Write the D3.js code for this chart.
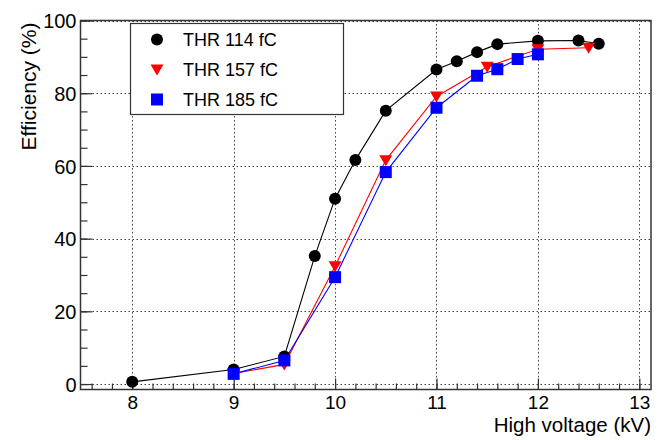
<!DOCTYPE html>
<html>
<head>
<meta charset="utf-8">
<script src="https://cdn.jsdelivr.net/npm/d3@7"></script>
<style>
  html, body { margin: 0; padding: 0; background: #fff; }
  svg text { font-family: "Liberation Sans", Arial, Helvetica, sans-serif; fill: #000; }
</style>
</head>
<body>
<svg id="chart" width="663" height="440"></svg>
<script>
// High voltage scan (kV) for each discriminator threshold
const hv114 = [8.0, 9.0, 9.5, 9.8, 10.0, 10.2, 10.5, 11.0, 11.2, 11.4, 11.6, 12.0, 12.4, 12.6];
const eff114 = [0.6, 4.0, 7.6, 35.2, 51.0, 61.6, 75.2, 86.5, 88.8, 91.3, 93.5, 94.4, 94.5, 93.6];

const hv157 = [9.0, 9.5, 10.0, 10.5, 11.0, 11.5, 12.0, 12.5];
const eff157 = [2.9, 5.4, 32.4, 61.6, 79.1, 87.3, 92.1, 92.5];

const hv185 = [9.0, 9.5, 10.0, 10.5, 11.0, 11.4, 11.6, 11.8, 12.0];
const eff185 = [2.8, 6.5, 29.4, 58.3, 76.0, 84.8, 86.6, 89.4, 90.7];

const seriesNames = ["THR 114 fC", "THR 157 fC", "THR 185 fC"];
const seriesColors = ["#000000", "#ff0000", "#0000ff"];
const seriesShapes = ["circle", "triangleDown", "square"];

const xTicks = [8, 9, 10, 11, 12, 13];
const yTicks = [0, 20, 40, 60, 80, 100];
const xTitle = "High voltage (kV)";
const yTitle = "Efficiency (%)";

const svg = d3.select("#chart");
const L = 80.5, R = 651, T = 20.5, B = 389.5;

const x = d3.scaleLinear().domain([7.49, 13.115]).range([L, R]);
const y = d3.scaleLinear().domain([-1.5, 100]).range([B, T]);

// dotted grid at major ticks
const grid = svg.append("g").attr("stroke", "#444").attr("stroke-width", 1)
  .attr("stroke-dasharray", "1.5,2.5");
grid.selectAll(".gx").data(xTicks).join("line")
  .attr("x1", d => Math.round(x(d)) + 0.5).attr("x2", d => Math.round(x(d)) + 0.5)
  .attr("y1", B).attr("y2", T);
grid.selectAll(".gy").data(yTicks).join("line")
  .attr("y1", d => Math.round(y(d)) + 0.5).attr("y2", d => Math.round(y(d)) + 0.5)
  .attr("x1", L).attr("x2", R);

// frame
svg.append("rect").attr("x", L).attr("y", T).attr("width", R - L).attr("height", B - T)
  .attr("fill", "none").attr("stroke", "#333").attr("stroke-width", 1.5);

// x axis: ticks point inward (upward)
const xMinor = d3.range(7.6, 13.01, 0.2).map(v => +v.toFixed(1));
const xAxis = d3.axisBottom(x).tickValues(xMinor).tickSize(-6).tickFormat("");
svg.append("g").attr("transform", `translate(0,${B})`).call(xAxis)
  .call(g => g.select(".domain").remove())
  .call(g => g.selectAll(".tick line").attr("stroke", "#333").attr("stroke-width", 1.2));
const xMajor = d3.axisBottom(x).tickValues(xTicks).tickSize(-11)
  .tickFormat(d3.format("d"));
svg.append("g").attr("transform", `translate(0,${B})`).call(xMajor)
  .call(g => g.select(".domain").remove())
  .call(g => g.selectAll(".tick line").attr("stroke", "#333").attr("stroke-width", 1.2))
  .call(g => g.selectAll(".tick text").attr("font-size", 19).attr("dy", "0")
    .attr("y", 19.5));

// y axis: ticks point inward (rightward)
const yMinor = d3.range(0, 101, 5);
const yAxis = d3.axisLeft(y).tickValues(yMinor).tickSize(-7).tickFormat("");
svg.append("g").attr("transform", `translate(${L},0)`).call(yAxis)
  .call(g => g.select(".domain").remove())
  .call(g => g.selectAll(".tick line").attr("stroke", "#333").attr("stroke-width", 1.2));
const yMajor = d3.axisLeft(y).tickValues(yTicks).tickSize(-12)
  .tickFormat(d3.format("d"));
svg.append("g").attr("transform", `translate(${L},0)`).call(yMajor)
  .call(g => g.select(".domain").remove())
  .call(g => g.selectAll(".tick line").attr("stroke", "#333").attr("stroke-width", 1.2))
  .call(g => g.selectAll(".tick text").attr("font-size", 20).attr("x", -4).attr("dy", "0.36em"));

// axis titles
svg.append("text").attr("x", R).attr("y", 432).attr("text-anchor", "end")
  .attr("font-size", 20.5).text(xTitle);
svg.append("text").attr("transform", `translate(36,${T + 2}) rotate(-90)`)
  .attr("text-anchor", "end").attr("font-size", 21).text(yTitle);

// marker drawing
const symbolFor = {
  circle: d3.symbol(d3.symbolCircle, Math.PI * 6 * 6),
  square: d3.symbol(d3.symbolSquare, 12 * 12),
};
function drawMarker(g, shape, color, cx, cy) {
  if (shape === "triangleDown") {
    const w = 13, h = 11;
    g.append("path")
      .attr("d", `M${cx - w / 2},${cy - h * 0.45}L${cx + w / 2},${cy - h * 0.45}L${cx},${cy + h * 0.55}Z`)
      .attr("fill", color);
  } else {
    g.append("path").attr("d", symbolFor[shape]())
      .attr("transform", `translate(${cx},${cy})`).attr("fill", color);
  }
}

const series = [
  { xs: hv114, ys: eff114 },
  { xs: hv157, ys: eff157 },
  { xs: hv185, ys: eff185 },
];

const line = d3.line().x(d => x(d[0])).y(d => y(d[1]));
series.forEach((s, i) => {
  const pts = s.xs.map((v, k) => [v, s.ys[k]]);
  svg.append("path").datum(pts).attr("d", line).attr("fill", "none")
    .attr("stroke", seriesColors[i]).attr("stroke-width", 1.1);
});
series.forEach((s, i) => {
  const g = svg.append("g");
  s.xs.forEach((v, k) => drawMarker(g, seriesShapes[i], seriesColors[i], x(v), y(s.ys[k])));
});

// legend
const lg = svg.append("g");
lg.append("rect").attr("x", 130.5).attr("y", 23.5).attr("width", 213).attr("height", 91)
  .attr("fill", "#fff").attr("stroke", "#333").attr("stroke-width", 1.2);
seriesNames.forEach((name, i) => {
  const cy = 39.5 + i * 30;
  drawMarker(lg, seriesShapes[i], seriesColors[i], 157, cy);
  lg.append("text").attr("x", 183).attr("y", cy).attr("dy", "0.36em")
    .attr("font-size", 18).text(name);
});
</script>
</body>
</html>
